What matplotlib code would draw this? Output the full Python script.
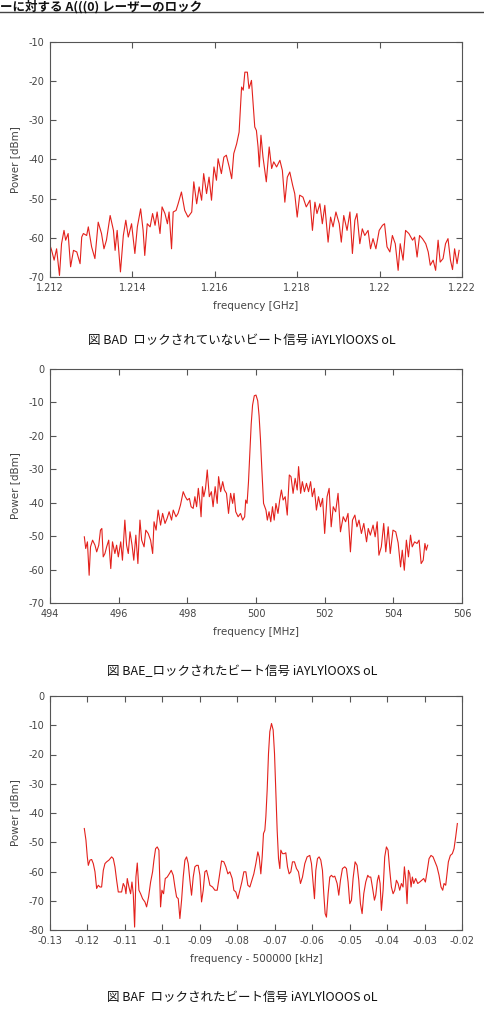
import matplotlib
matplotlib.use("Agg")
import matplotlib.pyplot as plt
from matplotlib.ticker import FormatStrFormatter
import numpy as np

plt.rcParams['font.family'] = 'DejaVu Sans'
plt.rcParams['axes.unicode_minus'] = False
CJK = ['Noto Sans CJK JP', 'DejaVu Sans']

# --- figure A: unlocked beat, 1.212-1.222 GHz ---
freq_a = [1.21200, 1.21204, 1.21210, 1.21216, 1.21223, 1.21228, 1.21234, 1.21238, 1.21244, 1.21250,
          1.21257, 1.21265, 1.21273, 1.21277, 1.21281, 1.21289, 1.21293, 1.21301, 1.21309, 1.21317,
          1.21325, 1.21331, 1.21337, 1.21346, 1.21354, 1.21358, 1.21363, 1.21371, 1.21378, 1.21384,
          1.21390, 1.21398, 1.21406, 1.21412, 1.21420, 1.21426, 1.21430, 1.21436, 1.21443, 1.21449,
          1.21455, 1.21460, 1.21467, 1.21472, 1.21479, 1.21485, 1.21489, 1.21495, 1.21499, 1.21506,
          1.21511, 1.21519, 1.21527, 1.21535, 1.21544, 1.21549, 1.21556, 1.21562, 1.21568, 1.21573,
          1.21580, 1.21586, 1.21592, 1.21598, 1.21604, 1.21608, 1.21616, 1.21622, 1.21628, 1.21635,
          1.21641, 1.21646, 1.21653, 1.21659, 1.21665, 1.21669, 1.21673, 1.21679, 1.21683, 1.21689,
          1.21693, 1.21697, 1.21701, 1.21705, 1.21708, 1.21712, 1.21717, 1.21725, 1.21732, 1.21738,
          1.21743, 1.21750, 1.21758, 1.21764, 1.21770, 1.21776, 1.21782, 1.21789, 1.21794, 1.21800,
          1.21806, 1.21814, 1.21822, 1.21831, 1.21837, 1.21843, 1.21848, 1.21855, 1.21861, 1.21867,
          1.21875, 1.21881, 1.21887, 1.21894, 1.21902, 1.21907, 1.21913, 1.21921, 1.21928, 1.21934,
          1.21940, 1.21945, 1.21952, 1.21958, 1.21964, 1.21972, 1.21978, 1.21984, 1.21991, 1.21999,
          1.22007, 1.22012, 1.22018, 1.22025, 1.22031, 1.22038, 1.22045, 1.22050, 1.22057, 1.22063,
          1.22071, 1.22080, 1.22085, 1.22091, 1.22097, 1.22104, 1.22112, 1.22118, 1.22123, 1.22130,
          1.22136, 1.22142, 1.22147, 1.22154, 1.22160, 1.22166, 1.22172, 1.22177, 1.22182, 1.22188,
          1.22193]
power_a = [-61.9, -63.2, -65.7, -62.8, -69.6, -61.5, -58.1, -60.6, -58.9, -67.4,
           -63.2, -63.6, -66.6, -59.8, -58.9, -59.4, -57.2, -62.3, -65.3, -56.0,
           -58.9, -62.8, -60.6, -54.3, -58.1, -63.2, -58.1, -68.7, -59.4, -55.5,
           -59.8, -56.4, -64.0, -57.2, -52.6, -58.1, -64.5, -56.4, -57.2, -53.8,
           -56.8, -53.4, -58.9, -52.1, -53.8, -56.4, -53.4, -62.8, -53.4, -53.0,
           -51.3, -48.3, -53.0, -54.7, -53.4, -45.7, -51.3, -47.0, -50.4, -43.6,
           -48.7, -44.5, -50.4, -41.9, -45.3, -39.8, -43.6, -39.4, -38.9, -41.9,
           -44.9, -38.5, -36.0, -33.0, -21.5, -22.3, -17.7, -17.7, -21.9, -19.8,
           -25.7, -31.7, -32.6, -36.8, -41.9, -33.8, -39.4, -45.7, -36.8, -42.3,
           -40.6, -41.9, -40.2, -42.8, -50.9, -44.5, -43.2, -46.6, -48.7, -54.7,
           -49.1, -49.6, -52.1, -50.4, -58.1, -50.9, -53.8, -51.3, -56.4, -51.7,
           -61.1, -54.7, -57.2, -53.4, -56.4, -61.1, -54.3, -58.1, -53.4, -64.0,
           -55.5, -53.8, -61.5, -57.7, -59.4, -58.1, -62.8, -60.2, -62.8, -58.1,
           -56.8, -56.4, -62.3, -63.6, -59.4, -61.5, -68.3, -61.5, -65.7, -58.1,
           -58.9, -60.6, -59.8, -64.9, -59.4, -60.2, -61.5, -63.6, -67.0, -65.7,
           -68.3, -60.6, -66.2, -65.3, -61.5, -60.2, -65.7, -68.1, -62.8, -66.6,
           -63.2]

# --- figure B: locked beat, 495-505 MHz ---
freq_b = [495.00, 495.04, 495.09, 495.14, 495.18, 495.24, 495.31, 495.36, 495.42, 495.47,
          495.51, 495.55, 495.60, 495.65, 495.71, 495.77, 495.82, 495.89, 495.94, 495.99,
          496.06, 496.11, 496.18, 496.23, 496.28, 496.33, 496.39, 496.44, 496.50, 496.56,
          496.62, 496.67, 496.74, 496.79, 496.86, 496.93, 496.99, 497.03, 497.09, 497.15,
          497.22, 497.28, 497.35, 497.41, 497.47, 497.54, 497.59, 497.67, 497.73, 497.80,
          497.88, 497.94, 498.00, 498.06, 498.11, 498.17, 498.22, 498.27, 498.32, 498.37,
          498.40, 498.44, 498.48, 498.53, 498.58, 498.64, 498.70, 498.75, 498.81, 498.87,
          498.91, 498.97, 499.03, 499.08, 499.14, 499.20, 499.26, 499.32, 499.36, 499.41,
          499.48, 499.55, 499.61, 499.67, 499.70, 499.74, 499.78, 499.82, 499.86, 499.90,
          499.95, 500.00, 500.05, 500.09, 500.13, 500.17, 500.22, 500.29, 500.33,
          500.38, 500.43, 500.48, 500.53, 500.58, 500.64, 500.69, 500.74, 500.79, 500.85,
          500.91, 500.97, 501.02, 501.08, 501.14, 501.20, 501.24, 501.30, 501.35, 501.41,
          501.47, 501.53, 501.59, 501.64, 501.70, 501.76, 501.82, 501.88, 501.94, 502.00,
          502.07, 502.13, 502.19, 502.25, 502.32, 502.39, 502.46, 502.54, 502.61, 502.68,
          502.75, 502.81, 502.88, 502.94, 503.00, 503.07, 503.14, 503.22, 503.27, 503.33,
          503.41, 503.47, 503.53, 503.58, 503.65, 503.72, 503.78, 503.85, 503.91, 503.99,
          504.07, 504.14, 504.21, 504.26, 504.32, 504.38, 504.44, 504.50, 504.55, 504.62,
          504.69, 504.75, 504.81, 504.87, 504.92, 504.96, 505.00]
power_b = [-50.2, -53.7, -51.7, -61.7, -53.2, -51.2, -52.7, -54.7, -52.7, -48.2,
           -47.7, -56.2, -55.2, -53.2, -51.2, -59.7, -51.7, -55.2, -52.7, -56.2,
           -51.7, -57.2, -45.2, -52.7, -55.2, -48.7, -52.7, -57.2, -49.7, -58.2,
           -45.2, -51.2, -53.2, -48.2, -49.2, -51.2, -55.2, -45.7, -48.2, -42.2,
           -46.7, -43.2, -46.2, -44.7, -42.7, -45.2, -42.2, -44.2, -43.2, -40.7,
           -36.7, -38.2, -39.2, -38.7, -41.2, -41.7, -38.2, -41.2, -35.7, -40.2,
           -44.2, -35.2, -38.2, -35.7, -30.2, -38.2, -36.7, -41.2, -35.2, -40.2,
           -32.2, -36.7, -33.7, -36.2, -37.2, -43.2, -37.2, -40.2, -37.2, -42.7,
           -44.2, -43.2, -45.2, -44.2, -39.2, -40.2, -34.0, -25.0, -16.5, -10.8,
           -8.0, -7.8, -9.5, -14.0, -21.0, -30.0, -40.2, -42.2, -45.2,
           -42.7, -45.7, -41.2, -45.2, -40.2, -43.2, -39.2, -36.2, -39.2, -38.2,
           -43.7, -31.7, -32.2, -37.2, -32.7, -36.2, -29.2, -37.2, -33.7, -36.7,
           -34.2, -36.7, -33.7, -38.2, -35.7, -42.2, -38.2, -41.2, -38.7, -49.2,
           -38.2, -35.7, -47.2, -41.2, -42.7, -37.2, -48.7, -44.2, -45.7, -43.2,
           -54.7, -45.2, -43.7, -47.2, -45.2, -49.2, -46.2, -51.7, -47.7, -49.7,
           -46.7, -50.2, -45.7, -55.7, -53.2, -46.2, -54.7, -47.2, -55.2, -48.2,
           -48.7, -52.0, -59.2, -54.2, -60.2, -51.2, -56.2, -49.7, -53.2, -51.7,
           -52.2, -51.2, -58.2, -57.2, -52.2, -54.2, -52.7]

# --- figure C: locked beat, offset from 500000 kHz ---
freq_c = [-0.12084, -0.12040, -0.12004, -0.11977, -0.11933, -0.11888, -0.11844, -0.11799, -0.11755, -0.11711,
          -0.11666, -0.11622, -0.11577, -0.11533, -0.11488, -0.11426, -0.11355, -0.11310, -0.11266, -0.11221,
          -0.11177, -0.11133, -0.11088, -0.11044, -0.10999, -0.10972, -0.10937, -0.10892, -0.10848, -0.10812,
          -0.10777, -0.10741, -0.10706, -0.10670, -0.10626, -0.10581, -0.10528, -0.10466, -0.10421, -0.10368,
          -0.10314, -0.10261, -0.10225, -0.10181, -0.10137, -0.10092, -0.10048, -0.10012, -0.09968, -0.09923,
          -0.09870, -0.09816, -0.09763, -0.09710, -0.09665, -0.09621, -0.09576, -0.09532, -0.09487, -0.09443,
          -0.09398, -0.09354, -0.09309, -0.09265, -0.09221, -0.09176, -0.09132, -0.09087, -0.09043, -0.08998,
          -0.08954, -0.08909, -0.08865, -0.08820, -0.08776, -0.08731, -0.08660, -0.08598, -0.08536, -0.08482,
          -0.08420, -0.08358, -0.08305, -0.08251, -0.08198, -0.08136, -0.08091, -0.08038, -0.07984, -0.07931,
          -0.07878, -0.07824, -0.07771, -0.07718, -0.07664, -0.07611, -0.07558, -0.07504, -0.07451, -0.07415,
          -0.07371, -0.07335, -0.07300, -0.07264, -0.07237, -0.07202, -0.07166, -0.07131, -0.07086, -0.07042,
          -0.07006, -0.06971, -0.06935, -0.06899, -0.06864, -0.06837, -0.06793, -0.06748, -0.06704, -0.06659,
          -0.06615, -0.06570, -0.06526, -0.06473, -0.06419, -0.06366, -0.06313, -0.06259, -0.06197, -0.06135,
          -0.06064, -0.06019, -0.05975, -0.05939, -0.05903, -0.05859, -0.05815, -0.05770, -0.05726, -0.05690,
          -0.05654, -0.05619, -0.05574, -0.05530, -0.05486, -0.05441, -0.05397, -0.05334, -0.05290, -0.05245,
          -0.05192, -0.05130, -0.05085, -0.05041, -0.04996, -0.04952, -0.04908, -0.04854, -0.04801, -0.04756,
          -0.04712, -0.04667, -0.04623, -0.04570, -0.04516, -0.04481, -0.04436, -0.04392, -0.04338, -0.04303,
          -0.04258, -0.04223, -0.04187, -0.04152, -0.04107, -0.04063, -0.04018, -0.03974, -0.03929, -0.03885,
          -0.03840, -0.03796, -0.03751, -0.03707, -0.03663, -0.03618, -0.03574, -0.03538, -0.03502, -0.03467,
          -0.03431, -0.03396, -0.03360, -0.03325, -0.03289, -0.03236, -0.03182, -0.03129, -0.03076, -0.03022,
          -0.02978, -0.02933, -0.02880, -0.02827, -0.02773, -0.02720, -0.02667, -0.02613, -0.02560, -0.02515,
          -0.02480, -0.02435, -0.02400, -0.02364, -0.02311, -0.02258, -0.02213, -0.02169, -0.02124]
power_c = [-45.3, -49.3, -55.0, -57.9, -56.1, -55.9, -57.3, -60.1, -65.8, -64.7,
           -65.3, -65.3, -59.6, -57.3, -56.7, -56.1, -55.0, -55.6, -58.4, -63.0,
           -67.0, -67.0, -67.0, -64.1, -65.3, -67.6, -62.4, -65.3, -67.6, -63.6,
           -67.6, -79.0, -61.9, -57.1, -66.4, -67.6, -69.3, -70.4, -72.1, -68.7,
           -63.6, -60.1, -56.1, -52.2, -51.6, -52.7, -72.1, -66.4, -67.6, -62.4,
           -61.9, -60.8, -59.6, -61.3, -65.3, -68.7, -69.3, -76.1, -69.8, -61.9,
           -56.1, -55.0, -57.3, -63.0, -68.1, -61.9, -58.4, -57.9, -57.9, -61.3,
           -70.4, -66.4, -60.1, -59.6, -61.9, -64.7, -65.3, -66.4, -66.4, -61.9,
           -56.4, -56.7, -58.4, -60.8, -60.1, -62.4, -66.4, -67.0, -69.3, -66.4,
           -63.6, -60.1, -60.1, -64.7, -65.3, -63.0, -60.8, -57.3, -53.3, -55.0,
           -60.8, -55.0, -47.0, -45.9, -41.3, -32.2, -19.6, -12.2, -9.4, -11.6,
           -19.6, -32.2, -45.9, -55.6, -59.0, -52.7, -53.9, -53.9, -53.6, -58.4,
           -60.8, -60.1, -56.7, -56.7, -59.0, -60.1, -64.1, -61.9, -57.3, -55.0,
           -54.5, -57.3, -64.1, -69.3, -59.6, -55.6, -55.0, -56.1, -59.6, -67.6,
           -74.4, -75.6, -67.6, -61.9, -61.3, -61.9, -61.6, -64.1, -68.1, -63.0,
           -59.0, -58.4, -59.0, -63.6, -71.0, -69.8, -62.4, -56.7, -57.9, -63.0,
           -71.0, -74.4, -67.6, -63.6, -61.3, -61.9, -61.9, -65.3, -69.8, -68.1,
           -63.0, -61.3, -64.1, -73.3, -66.4, -55.0, -51.6, -52.7, -59.6, -65.3,
           -67.6, -66.4, -63.0, -64.1, -66.4, -64.1, -65.3, -58.4, -63.0, -71.0,
           -59.6, -60.8, -65.3, -61.9, -64.1, -62.4, -64.1, -63.6, -63.0, -62.4,
           -63.6, -60.1, -55.6, -54.5, -55.0, -56.7, -58.4, -61.3, -65.3, -66.4,
           -64.1, -64.7, -60.8, -56.7, -54.5, -53.9, -52.2, -48.2, -43.6]

header = 'ーに対する A(((0) レーザーのロック'
captions = ['図 BAD  ロックされていないビート信号 iAYLYlOOXS oL',
            '図 BAE_ロックされたビート信号 iAYLYlOOXS oL',
            '図 BAF  ロックされたビート信号 iAYLYlOOOS oL']

LINE = '#e3211c'
FRAME = '#555555'
TEXT = '#444444'


def spectrum(ax, x, y, xticks, yticks, xlabel):
    ax.plot(x, y, color=LINE, lw=0.8)
    ax.set_xlim(xticks[0], xticks[-1])
    ax.set_ylim(yticks[0], yticks[-1])
    ax.set_xticks(xticks)
    ax.set_yticks(yticks)
    ax.xaxis.set_major_formatter(FormatStrFormatter('%g'))
    ax.yaxis.set_major_formatter(FormatStrFormatter('%g'))
    ax.tick_params(direction='in', length=4, width=0.8, colors=FRAME,
                   labelcolor=TEXT, labelsize=7, top=True, right=True, pad=4)
    for s in ax.spines.values():
        s.set_color(FRAME)
        s.set_linewidth(0.8)
    ax.set_xlabel(xlabel, fontsize=7.5, color=TEXT, labelpad=6)
    ax.set_ylabel('Power [dBm]', fontsize=7.5, color=TEXT, labelpad=6)


fig = plt.figure(figsize=(4.84, 10.28), dpi=100)

# page header with rule
fig.text(0.0, 0.9995, header, fontsize=9, fontweight='bold', va='top', ha='left',
         family=CJK, color='#111111')
fig.add_artist(plt.Line2D([0, 1], [1 - 12 / 1028, 1 - 12 / 1028], color='#444444', lw=1))

ax1 = fig.add_axes([50 / 484, 1 - 277 / 1028, 412 / 484, 235 / 1028])
spectrum(ax1, freq_a, power_a, np.arange(1.212, 1.2221, 0.002), np.arange(-70, -9, 10),
         'frequency [GHz]')

ax2 = fig.add_axes([50 / 484, 1 - 603 / 1028, 412 / 484, 234 / 1028])
spectrum(ax2, freq_b, power_b, np.arange(494, 507, 2), np.arange(-70, 1, 10),
         'frequency [MHz]')

ax3 = fig.add_axes([50 / 484, 1 - 930 / 1028, 412 / 484, 234 / 1028])
spectrum(ax3, freq_c, power_c, np.round(np.arange(-0.13, -0.0199, 0.01), 2),
         np.arange(-80, 1, 10), 'frequency - 500000 [kHz]')

for ycap, cap in zip([340, 672, 997], captions):
    fig.text(0.5, 1 - ycap / 1028, cap, fontsize=9, ha='center', va='center',
             family=CJK, color='#111111')

fig.savefig('out.png', dpi=100)
